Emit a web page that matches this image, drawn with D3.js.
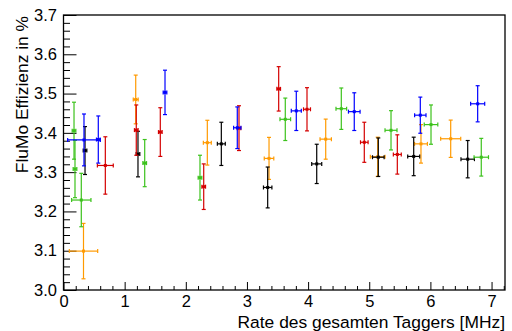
<!DOCTYPE html>
<html>
<head>
<meta charset="utf-8">
<script src="https://cdn.jsdelivr.net/npm/d3@7"></script>
<style>
  html, body { margin: 0; padding: 0; background: #fff; }
  svg { display: block; }
  text { font-family: "Liberation Sans", Arial, Helvetica, sans-serif; }
</style>
</head>
<body>
<svg id="chart" width="512" height="331"></svg>
<script>
// ---- data: each point is [x (MHz), y (%), xError, yError] ----
const blackPoints = [
  [0.352, 3.355, 0.03, 0.061],
  [1.218, 3.346, 0.03, 0.058],
  [2.581, 3.372, 0.065, 0.055],
  [3.339, 3.261, 0.069, 0.052],
  [4.141, 3.321, 0.082, 0.050],
  [5.148, 3.338, 0.095, 0.049],
  [5.727, 3.340, 0.098, 0.049],
  [6.610, 3.333, 0.110, 0.0475]
];
const redPoints = [
  [0.684, 3.317, 0.130, 0.073],
  [1.190, 3.407, 0.03, 0.064],
  [1.583, 3.402, 0.03, 0.062],
  [2.293, 3.263, 0.03, 0.058],
  [2.870, 3.412, 0.03, 0.057],
  [3.519, 3.512, 0.03, 0.0565],
  [3.982, 3.460, 0.057, 0.055],
  [4.919, 3.376, 0.062, 0.051],
  [5.459, 3.345, 0.065, 0.050]
];
const greenPoints = [
  [0.172, 3.4055, 0.03, 0.0725],
  [0.188, 3.308, 0.03, 0.073],
  [0.291, 3.229, 0.158, 0.068],
  [1.328, 3.323, 0.03, 0.060],
  [2.232, 3.286, 0.03, 0.057],
  [3.627, 3.4345, 0.087, 0.054],
  [4.543, 3.4615, 0.087, 0.0527],
  [5.356, 3.4065, 0.098, 0.050],
  [6.010, 3.421, 0.111, 0.050],
  [6.832, 3.338, 0.118, 0.048]
];
const bluePoints = [
  [0.335, 3.382, 0.267, 0.066],
  [0.569, 3.383, 0.03, 0.060],
  [1.660, 3.503, 0.03, 0.0565],
  [2.842, 3.413, 0.06, 0.053],
  [3.807, 3.456, 0.082, 0.050],
  [4.755, 3.454, 0.095, 0.048],
  [5.835, 3.445, 0.093, 0.046],
  [6.773, 3.474, 0.115, 0.046]
];
const orangePoints = [
  [0.327, 3.099, 0.232, 0.0705],
  [1.181, 3.485, 0.04, 0.062],
  [2.352, 3.375, 0.065, 0.057],
  [3.361, 3.335, 0.078, 0.0535],
  [4.288, 3.384, 0.093, 0.051],
  [5.138, 3.339, 0.120, 0.050],
  [5.846, 3.372, 0.105, 0.049],
  [6.332, 3.385, 0.164, 0.0475]
];
const seriesNames = ["orange", "black", "green", "red", "blue"];
const seriesData = {
  black: blackPoints, red: redPoints, green: greenPoints,
  blue: bluePoints, orange: orangePoints
};
const xMajorTicks = [0, 1, 2, 3, 4, 5, 6, 7];
const yMajorTicks = [3.0, 3.1, 3.2, 3.3, 3.4, 3.5, 3.6, 3.7];
const xTitle = "Rate des gesamten Taggers [MHz]";
const yTitle = "FluMo Effizienz in %";

// ---- styles ----
const colors = {
  black: "#000000", red: "#d40000", green: "#3cc21c",
  blue: "#0000ff", orange: "#ff9a00"
};

const svg = d3.select("#chart");
const frame = { left: 63.5, right: 505, top: 15, bottom: 290 };

const x = d3.scaleLinear().domain([0, 7.22]).range([frame.left, frame.right]);
const y = d3.scaleLinear().domain([3.0, 3.7]).range([frame.bottom, frame.top]);

const labelSize = "16.5px";
const titleSize = "17.4px";

// minor ticks
const xMinor = d3.range(0, 7.21, 0.2).filter(v => Math.abs(v - Math.round(v)) > 1e-6);
const yMinor = d3.range(3.0, 3.7001, 0.02).filter(v => Math.abs(v * 10 - Math.round(v * 10)) > 1e-6);

const gx = svg.append("g").attr("transform", `translate(0,${frame.bottom})`);
gx.call(d3.axisBottom(x).tickValues(xMajorTicks).tickSizeInner(-8).tickSizeOuter(0)
  .tickPadding(5).tickFormat(d3.format("d")));
gx.call(g => g.select(".domain").remove());
const gxm = svg.append("g").attr("transform", `translate(0,${frame.bottom})`);
gxm.call(d3.axisBottom(x).tickValues(xMinor).tickSizeInner(-4).tickSizeOuter(0).tickFormat(""));
gxm.call(g => g.select(".domain").remove());

const gy = svg.append("g").attr("transform", `translate(${frame.left},0)`);
gy.call(d3.axisLeft(y).tickValues(yMajorTicks).tickSizeInner(-13).tickSizeOuter(0)
  .tickPadding(6.5).tickFormat(d3.format(".1f")));
gy.call(g => g.select(".domain").remove());
const gym = svg.append("g").attr("transform", `translate(${frame.left},0)`);
gym.call(d3.axisLeft(y).tickValues(yMinor).tickSizeInner(-6.5).tickSizeOuter(0).tickFormat(""));
gym.call(g => g.select(".domain").remove());

svg.selectAll(".tick line").attr("stroke", "#000").attr("stroke-width", 1);
svg.selectAll(".tick text").attr("font-size", labelSize).attr("fill", "#000")
  .attr("font-family", "'Liberation Sans', Arial, sans-serif");

// frame
svg.append("rect")
  .attr("x", frame.left).attr("y", frame.top)
  .attr("width", frame.right - frame.left).attr("height", frame.bottom - frame.top)
  .attr("fill", "none").attr("stroke", "#000").attr("stroke-width", 1.3);

// data points with error bars
const cap = 2;
const layer = svg.append("g");
seriesNames.forEach(name => {
  const col = colors[name];
  const g = layer.append("g").attr("stroke", col).attr("fill", col).attr("stroke-width", 1.2);
  const pts = g.selectAll("g.pt").data(seriesData[name]).join("g").attr("class", "pt");
  pts.append("line")
    .attr("x1", d => x(d[0])).attr("x2", d => x(d[0]))
    .attr("y1", d => y(d[1] - d[3])).attr("y2", d => y(d[1] + d[3]));
  pts.append("line")
    .attr("x1", d => x(d[0] - d[2])).attr("x2", d => x(d[0] + d[2]))
    .attr("y1", d => y(d[1])).attr("y2", d => y(d[1]));
  [-1, 1].forEach(s => {
    pts.append("line")
      .attr("x1", d => x(d[0]) - cap).attr("x2", d => x(d[0]) + cap)
      .attr("y1", d => y(d[1] + s * d[3])).attr("y2", d => y(d[1] + s * d[3]));
    pts.append("line")
      .attr("x1", d => x(d[0] + s * d[2])).attr("x2", d => x(d[0] + s * d[2]))
      .attr("y1", d => y(d[1]) - cap).attr("y2", d => y(d[1]) + cap);
  });
  pts.append("rect")
    .attr("x", d => x(d[0]) - 1.5).attr("y", d => y(d[1]) - 1.5)
    .attr("width", 3).attr("height", 3).attr("stroke", "none");
});

// titles
svg.append("text")
  .attr("x", 505).attr("y", 327.5)
  .attr("text-anchor", "end").attr("font-size", titleSize).attr("fill", "#000")
  .text(xTitle);
svg.append("text")
  .attr("transform", "translate(27.5,16) rotate(-90)")
  .attr("text-anchor", "end").attr("font-size", titleSize).attr("fill", "#000")
  .text(yTitle);
</script>
</body>
</html>
